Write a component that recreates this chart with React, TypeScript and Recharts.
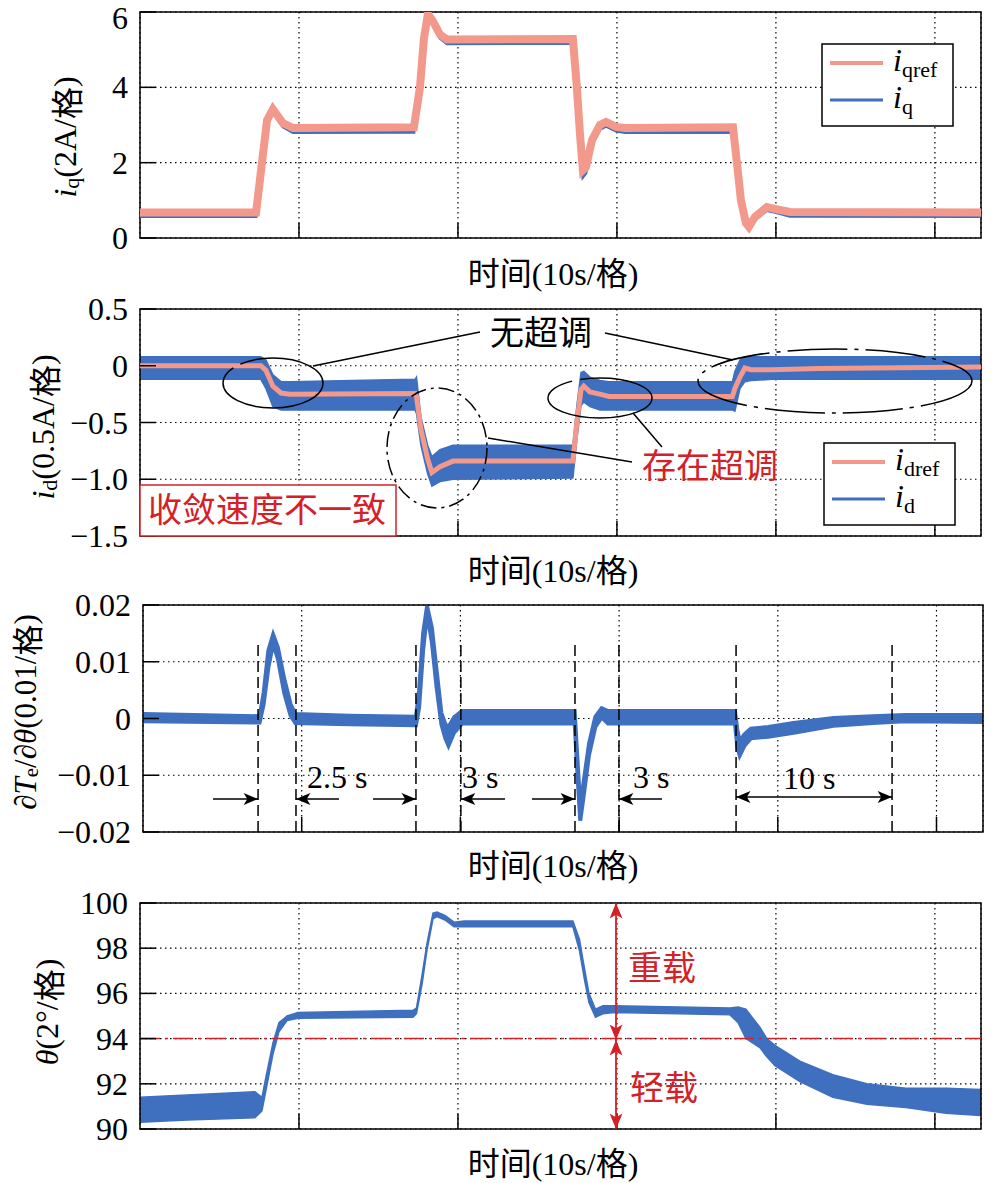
import React from "react";
import {
  ComposedChart,
  Line,
  Area,
  XAxis,
  YAxis,
  CartesianGrid,
  ReferenceArea,
  ReferenceLine,
} from "recharts";

const SERIF = "'Liberation Serif', 'Times New Roman', serif";
const CJK = "'Noto Sans CJK SC', sans-serif";
const BLUE = "#3f6fbf";
const SALMON = "#f2998c";
const RED = "#d42027";

// 时间轴：10s/格
const xTicks = [10, 20, 30, 40, 50];
const xMax = 52.9;
const xMax3 = 52.93;

// 图1：iq / iqref
const iqTime = [0, 7.3, 7.99, 8.36, 8.99, 9.62, 17.23, 17.61, 17.86, 18.11, 18.43, 18.87, 19.31, 27.23, 27.48, 27.67, 27.86, 28.05, 28.43, 28.93, 29.31, 29.94, 30.5, 37.3, 37.55, 37.8, 38.11, 38.3, 38.68, 39.43, 39.94, 40.88, 52.9];
const iqRef = [0.68, 0.68, 3.13, 3.42, 3.05, 2.92, 2.94, 4.0, 5.3, 5.95, 5.75, 5.4, 5.27, 5.28, 4.0, 2.78, 1.8, 1.88, 2.6, 3.0, 3.08, 2.95, 2.92, 2.94, 1.98, 1.0, 0.4, 0.3, 0.56, 0.82, 0.77, 0.69, 0.68];
const iqMeas = [0.57, 0.57, 3.0, 3.33, 2.95, 2.8, 2.81, 3.9, 5.2, 5.86, 5.66, 5.3, 5.16, 5.17, 3.9, 2.65, 1.62, 1.72, 2.48, 2.88, 2.97, 2.84, 2.8, 2.81, 1.9, 0.92, 0.32, 0.24, 0.48, 0.73, 0.68, 0.58, 0.57];
const iqTicks = [0, 2, 4, 6];
const iqTickLabels = ["0", "2", "4", "6"];

// 图2：id / idref（id 为噪声带上下沿）
const idTime = [0, 7.6, 7.92, 8.36, 8.87, 9.43, 17.3, 17.39, 17.67, 18.09, 18.36, 18.87, 19.69, 27.23, 27.48, 27.74, 27.92, 28.3, 28.93, 29.5, 37.26, 37.42, 37.74, 38.05, 38.43, 39.75, 42.7, 52.9];
const idRef = [0, 0, -0.04, -0.18, -0.24, -0.25, -0.245, -0.27, -0.56, -0.82, -0.94, -0.89, -0.84, -0.84, -0.5, -0.21, -0.18, -0.23, -0.25, -0.27, -0.27, -0.2, -0.1, -0.02, -0.035, -0.035, -0.025, -0.01];
const idHi = [0.08, 0.08, 0.05, -0.08, -0.14, -0.14, -0.12, -0.1, -0.45, -0.7, -0.8, -0.74, -0.7, -0.7, -0.35, -0.06, -0.05, -0.1, -0.13, -0.14, -0.14, -0.05, 0.05, 0.08, 0.08, 0.08, 0.08, 0.08];
const idLo = [-0.12, -0.12, -0.2, -0.36, -0.39, -0.39, -0.39, -0.42, -0.7, -0.95, -1.06, -1.02, -1.0, -0.99, -0.65, -0.35, -0.32, -0.36, -0.39, -0.39, -0.39, -0.4, -0.2, -0.14, -0.13, -0.12, -0.12, -0.12];
const idTicks = [-1.5, -1, -0.5, 0, 0.5];
const idTickLabels = ["−1.5", "−1.0", "−0.5", "0", "0.5"];

// 图3：∂Te/∂θ
const dtTime = [0, 7.35, 7.6, 7.9, 8.2, 8.5, 8.9, 9.3, 9.6, 13, 17.2, 17.4, 17.65, 17.9, 18.2, 18.5, 18.8, 19.05, 19.25, 19.6, 20.1, 27.2, 27.35, 27.55, 27.75, 28.1, 28.5, 28.9, 29.3, 37.3, 37.45, 37.6, 37.9, 38.3, 39.4, 41, 43.5, 46, 48, 52.93];
const dtLo = [-0.0005, -0.0007, 0.0025, 0.009, 0.0132, 0.0105, 0.0045, 0.0005, -0.0008, -0.001, -0.0012, 0.002, 0.012, 0.0185, 0.0135, 0.0055, -0.001, -0.0035, -0.0048, -0.0025, -0.0009, -0.0009, -0.0085, -0.018, -0.014, -0.0065, -0.0015, 0.0002, -0.0009, -0.0009, -0.005, -0.0065, -0.0048, -0.0035, -0.0032, -0.0025, -0.0013, -0.0008, -0.0005, -0.0006];
const dtHi = [0.0008, 0.0004, 0.0045, 0.012, 0.0148, 0.0125, 0.007, 0.0025, 0.0008, 0.0005, 0.0003, 0.005, 0.015, 0.0198, 0.016, 0.0085, 0.001, -0.001, -0.0015, 0.0002, 0.0013, 0.0013, -0.006, -0.0155, -0.0115, -0.0045, 0.0003, 0.0018, 0.0013, 0.0013, -0.002, -0.004, -0.0028, -0.0018, -0.0015, -0.0008, 0.0001, 0.0004, 0.0006, 0.0006];
const dtTicks = [-0.02, -0.01, 0, 0.01, 0.02];
const dtTickLabels = ["−0.02", "−0.01", "0", "0.01", "0.02"];
const dtEvents = [7.25, 9.64, 17.2, 20.03, 27.22, 29.99, 37.37, 47.2];

// 图4：θ
const thTime = [0, 2.96, 7.23, 7.67, 7.92, 8.36, 8.74, 9.25, 9.94, 17.17, 17.39, 17.74, 18.05, 18.43, 18.68, 19.18, 19.75, 20.38, 27.23, 27.64, 27.96, 28.24, 28.65, 29.12, 29.81, 37.11, 37.62, 38.11, 38.99, 39.43, 39.94, 41.51, 43.58, 45.72, 48.18, 50.69, 52.9];
const thLo = [90.3, 90.4, 90.5, 90.8, 91.7, 93.3, 94.3, 94.8, 94.9, 94.95, 95.1, 96.4, 97.9, 99.3, 99.4, 99.25, 98.95, 98.95, 98.95, 97.9, 96.6, 95.6, 94.95, 95.1, 95.15, 95.05, 94.7, 94.0, 93.6, 93.2, 92.8, 92.1, 91.4, 91.1, 90.95, 90.7, 90.6];
const thHi = [91.4, 91.5, 91.65, 91.4, 92.3, 93.8, 94.7, 95.0, 95.15, 95.25, 95.35, 96.8, 98.2, 99.55, 99.6, 99.45, 99.15, 99.2, 99.2, 98.4, 97.1, 96.0, 95.3, 95.45, 95.45, 95.35, 95.4, 95.3, 94.5, 94.0, 93.7, 93.0, 92.4, 92.0, 91.8, 91.8, 91.75];
const thTicks = [90, 92, 94, 96, 98, 100];
const thTickLabels = ["90", "92", "94", "96", "98", "100"];
const loadLimit = 94;

const iqData = iqTime.map((t, i) => ({ t, ref: iqRef[i], meas: iqMeas[i] }));
const idData = idTime.map((t, i) => ({ t, ref: idRef[i], band: [idLo[i], idHi[i]] }));
const dtData = dtTime.map((t, i) => ({ t, band: [dtLo[i], dtHi[i]] }));
const thData = thTime.map((t, i) => ({ t, band: [thLo[i], thHi[i]] }));

// 中文用 CJK 字体，数字和字母用衬线体
const mixed = (s: string) =>
  s
    .split(/([\u2e80-\u9fff\uff00-\uffef]+)/)
    .filter(Boolean)
    .map((part, i) => (
      <tspan key={i} style={{ fontFamily: /[\u2e80-\u9fff\uff00-\uffef]/.test(part) ? CJK : SERIF }}>
        {part}
      </tspan>
    ));

const makeYTick = (ticks: number[], labels: string[]) => (props: any) => {
  const { x, y, payload } = props;
  const i = ticks.indexOf(payload.value);
  // 顶部标签不要被画布上沿裁掉
  const ty = Math.max(y + 11, 29);
  return (
    <g>
      <line x1={x} x2={x + 16} y1={y} y2={y} stroke="#000" strokeWidth={1.5} />
      <text x={x - 12} y={ty} textAnchor="end" fontSize={32} style={{ fontFamily: SERIF }} fill="#000">
        {labels[i]}
      </text>
    </g>
  );
};

const XTick = (props: any) => {
  const { x, y } = props;
  return <line x1={x} x2={x} y1={y} y2={y - 15} stroke="#000" strokeWidth={1.5} />;
};

interface PanelProps {
  top: number;
  height: number;
  plotTop: number;
  plotBottom: number;
  left: number;
  right: number;
  xEnd: number;
  yDomain: [number, number];
  yTicks: number[];
  yLabels: string[];
  data: any[];
  children: React.ReactNode;
}

// plotTop / plotBottom 为页面坐标
function Panel({ top, height, plotTop, plotBottom, left, right, xEnd, yDomain, yTicks, yLabels, data, children }: PanelProps) {
  return (
    <div style={{ position: "absolute", left: 0, top, width: 995, height }}>
      <ComposedChart
        width={995}
        height={height}
        data={data}
        margin={{ top: plotTop - top, right: 995 - right, bottom: 0, left: 0 }}
        style={{ overflow: "visible" }}
      >
        <CartesianGrid stroke="#000" strokeDasharray="1.5 3.5" strokeWidth={1.2} />
        <XAxis
          dataKey="t"
          type="number"
          domain={[0, xEnd]}
          ticks={xTicks}
          interval={0}
          height={top + height - plotBottom}
          axisLine={false}
          tickLine={false}
          tickSize={0}
          tickMargin={0}
          tick={XTick}
          allowDataOverflow
        />
        <YAxis
          type="number"
          domain={yDomain}
          ticks={yTicks}
          interval={0}
          width={left}
          axisLine={false}
          tickLine={false}
          tickSize={0}
          tickMargin={0}
          tick={makeYTick(yTicks, yLabels)}
          allowDataOverflow
        />
        {children}
        <ReferenceArea
          x1={0}
          x2={xEnd}
          y1={yDomain[0]}
          y2={yDomain[1]}
          fill="none"
          fillOpacity={0}
          stroke="#000"
          strokeWidth={1.5}
        />
      </ComposedChart>
    </div>
  );
}

const px3 = (t: number) => 143 + (t * 840) / xMax3;

function Overlay() {
  const xLabelYs = [285, 582, 877, 1175];
  const serif = { style: { fontFamily: SERIF }, fill: "#000" };
  return (
    <svg
      width={995}
      height={1183}
      style={{ position: "absolute", left: 0, top: 0, pointerEvents: "none" }}
    >
      <defs>
        <marker id="ah" viewBox="0 0 12 10" refX="12" refY="5" markerWidth="18" markerHeight="12" markerUnits="userSpaceOnUse" orient="auto-start-reverse">
          <path d="M0,0 L12,5 L0,10 L3,5 z" fill="#000" />
        </marker>
        <marker id="ahr" viewBox="0 0 12 10" refX="12" refY="5" markerWidth="16" markerHeight="13" markerUnits="userSpaceOnUse" orient="auto-start-reverse">
          <path d="M0,0 L12,5 L0,10 L3,5 z" fill={RED} />
        </marker>
      </defs>

      {/* 横轴标题 */}
      {xLabelYs.map((y) => (
        <text key={y} x={553} y={y} textAnchor="middle" fontSize={32} fill="#000">
          {mixed("时间(10s/格)")}
        </text>
      ))}

      {/* 纵轴标题 */}
      <text transform="translate(65,137) rotate(-90)" textAnchor="middle" dominantBaseline="central" fontSize={32} {...serif}>
        <tspan fontStyle="italic">i</tspan>
        <tspan fontSize={22} dy={6}>q</tspan>
        <tspan dy={-6}>(2A/</tspan>
        <tspan style={{ fontFamily: CJK }}>格</tspan>
        <tspan>)</tspan>
      </text>
      <text transform="translate(43,427) rotate(-90)" textAnchor="middle" dominantBaseline="central" fontSize={32} {...serif}>
        <tspan fontStyle="italic">i</tspan>
        <tspan fontSize={22} dy={6}>d</tspan>
        <tspan dy={-6}>(0.5A/</tspan>
        <tspan style={{ fontFamily: CJK }}>格</tspan>
        <tspan>)</tspan>
      </text>
      <text transform="translate(25,712) rotate(-90)" textAnchor="middle" dominantBaseline="central" fontSize={31} {...serif}>
        <tspan>∂</tspan>
        <tspan fontStyle="italic">T</tspan>
        <tspan fontSize={21} dy={6}>e</tspan>
        <tspan dy={-6}>/∂</tspan>
        <tspan fontStyle="italic">θ</tspan>
        <tspan>(0.01/</tspan>
        <tspan style={{ fontFamily: CJK }}>格</tspan>
        <tspan>)</tspan>
      </text>
      <text transform="translate(47,1012) rotate(-90)" textAnchor="middle" dominantBaseline="central" fontSize={32} {...serif}>
        <tspan fontStyle="italic">θ</tspan>
        <tspan>(2°/</tspan>
        <tspan style={{ fontFamily: CJK }}>格</tspan>
        <tspan>)</tspan>
      </text>

      {/* 图1 图例 */}
      <rect x={822} y={44} width={131} height={82} fill="#fff" stroke="#000" strokeWidth={1.5} />
      <line x1={830} x2={883} y1={63} y2={63} stroke={SALMON} strokeWidth={4} />
      <line x1={830} x2={883} y1={100} y2={100} stroke={BLUE} strokeWidth={3} />
      <text x={893} y={71} fontSize={32} {...serif}>
        <tspan fontStyle="italic">i</tspan>
        <tspan fontSize={22} dy={6}>qref</tspan>
      </text>
      <text x={893} y={108} fontSize={32} {...serif}>
        <tspan fontStyle="italic">i</tspan>
        <tspan fontSize={22} dy={6}>q</tspan>
      </text>

      {/* 图2 标注 */}
      <text x={490} y={345} fontSize={34} style={{ fontFamily: CJK }} fill="#000">无超调</text>
      <line x1={480} y1={332} x2={313} y2={366} stroke="#000" strokeWidth={1.5} />
      <line x1={605} y1={333} x2={733} y2={360} stroke="#000" strokeWidth={1.5} />
      <ellipse cx={273} cy={383} rx={50} ry={25} fill="none" stroke="#000" strokeWidth={1.5} strokeDasharray="140 8" />
      <ellipse cx={437} cy={448} rx={50} ry={60} fill="none" stroke="#000" strokeWidth={1.5} strokeDasharray="16 5 3 5" />
      <ellipse cx={600} cy={398} rx={52} ry={20} fill="none" stroke="#000" strokeWidth={1.5} strokeDasharray="150 8" />
      <ellipse cx={835} cy={381} rx={137} ry={32} fill="none" stroke="#000" strokeWidth={1.5} strokeDasharray="60 7 4 7" />
      <text x={642} y={478} fontSize={34} style={{ fontFamily: CJK }} fill={RED}>存在超调</text>
      <line x1={632} y1={462} x2={488} y2={438} stroke="#000" strokeWidth={1.5} />
      <line x1={662} y1={447} x2={633} y2={413} stroke="#000" strokeWidth={1.5} />
      <rect x={140} y={485} width={256} height={51} fill="#fff" stroke={RED} strokeWidth={1.5} />
      <text x={148} y={522} fontSize={34} style={{ fontFamily: CJK }} fill={RED}>收敛速度不一致</text>

      {/* 图2 图例 */}
      <rect x={824} y={443} width={131} height={82} fill="#fff" stroke="#000" strokeWidth={1.5} />
      <line x1={832} x2={885} y1={462} y2={462} stroke={SALMON} strokeWidth={4} />
      <line x1={832} x2={885} y1={499} y2={499} stroke={BLUE} strokeWidth={3} />
      <text x={895} y={470} fontSize={32} {...serif}>
        <tspan fontStyle="italic">i</tspan>
        <tspan fontSize={22} dy={6}>dref</tspan>
      </text>
      <text x={895} y={507} fontSize={32} {...serif}>
        <tspan fontStyle="italic">i</tspan>
        <tspan fontSize={22} dy={6}>d</tspan>
      </text>

      {/* 图3 时间间隔箭头 */}
      <line x1={213} x2={px3(dtEvents[0])} y1={799} y2={799} stroke="#000" strokeWidth={1.5} markerEnd="url(#ah)" />
      <line x1={339} x2={px3(dtEvents[1])} y1={799} y2={799} stroke="#000" strokeWidth={1.5} markerEnd="url(#ah)" />
      <line x1={373} x2={px3(dtEvents[2])} y1={799} y2={799} stroke="#000" strokeWidth={1.5} markerEnd="url(#ah)" />
      <line x1={505} x2={px3(dtEvents[3])} y1={799} y2={799} stroke="#000" strokeWidth={1.5} markerEnd="url(#ah)" />
      <line x1={532} x2={px3(dtEvents[4])} y1={799} y2={799} stroke="#000" strokeWidth={1.5} markerEnd="url(#ah)" />
      <line x1={662} x2={px3(dtEvents[5])} y1={799} y2={799} stroke="#000" strokeWidth={1.5} markerEnd="url(#ah)" />
      <line x1={px3(dtEvents[6])} x2={px3(dtEvents[7])} y1={797} y2={797} stroke="#000" strokeWidth={1.5} markerStart="url(#ah)" markerEnd="url(#ah)" />
      <text x={307} y={788} fontSize={32} {...serif}>2.5 s</text>
      <text x={462} y={788} fontSize={32} {...serif}>3 s</text>
      <text x={633} y={788} fontSize={32} {...serif}>3 s</text>
      <text x={783} y={789} fontSize={32} {...serif}>10 s</text>

      {/* 图4 重载/轻载 */}
      <line x1={616} x2={616} y1={903} y2={1040} stroke={RED} strokeWidth={1.8} markerStart="url(#ahr)" markerEnd="url(#ahr)" />
      <line x1={616} x2={616} y1={1040} y2={1129} stroke={RED} strokeWidth={1.8} markerStart="url(#ahr)" markerEnd="url(#ahr)" />
      <text x={628} y={980} fontSize={34} style={{ fontFamily: CJK }} fill={RED}>重载</text>
      <text x={630} y={1100} fontSize={34} style={{ fontFamily: CJK }} fill={RED}>轻载</text>
    </svg>
  );
}

export default function App() {
  return (
    <div style={{ position: "absolute", left: 0, top: 0, width: 995, height: 1183, background: "#fff", fontFamily: SERIF }}>
      <Panel top={0} height={295} plotTop={12} plotBottom={238} left={140} right={981} xEnd={xMax}
        yDomain={[0, 6]} yTicks={iqTicks} yLabels={iqTickLabels} data={iqData}>
        <Line dataKey="meas" type="linear" stroke={BLUE} strokeWidth={3} dot={false} activeDot={false} isAnimationActive={false} />
        <Line dataKey="ref" type="linear" stroke={SALMON} strokeWidth={8} dot={false} activeDot={false} isAnimationActive={false} />
      </Panel>

      <Panel top={280} height={305} plotTop={309} plotBottom={536} left={140} right={981} xEnd={xMax}
        yDomain={[-1.5, 0.5]} yTicks={idTicks} yLabels={idTickLabels} data={idData}>
        <Area dataKey="band" type="linear" stroke={BLUE} strokeWidth={1.5} fill={BLUE} fillOpacity={1} dot={false} activeDot={false} isAnimationActive={false} />
        <Line dataKey="ref" type="linear" stroke={SALMON} strokeWidth={5} dot={false} activeDot={false} isAnimationActive={false} />
      </Panel>

      <Panel top={575} height={305} plotTop={605} plotBottom={832} left={143} right={983} xEnd={xMax3}
        yDomain={[-0.02, 0.02]} yTicks={dtTicks} yLabels={dtTickLabels} data={dtData}>
        <Area dataKey="band" type="linear" stroke={BLUE} strokeWidth={4} fill={BLUE} fillOpacity={1} dot={false} activeDot={false} isAnimationActive={false} />
        {dtEvents.map((e) => (
          <ReferenceLine
            key={e}
            segment={[{ x: e, y: -0.02 }, { x: e, y: 0.0138 }]}
            stroke="#000"
            strokeWidth={1.5}
            strokeDasharray="11 5"
          />
        ))}
      </Panel>

      <Panel top={870} height={313} plotTop={903} plotBottom={1129} left={140} right={981} xEnd={xMax}
        yDomain={[90, 100]} yTicks={thTicks} yLabels={thTickLabels} data={thData}>
        <Area dataKey="band" type="linear" stroke={BLUE} strokeWidth={1.5} fill={BLUE} fillOpacity={1} dot={false} activeDot={false} isAnimationActive={false} />
        <ReferenceLine y={loadLimit} stroke={RED} strokeWidth={1.5} strokeDasharray="20 5 3 5" />
      </Panel>

      <Overlay />
    </div>
  );
}
